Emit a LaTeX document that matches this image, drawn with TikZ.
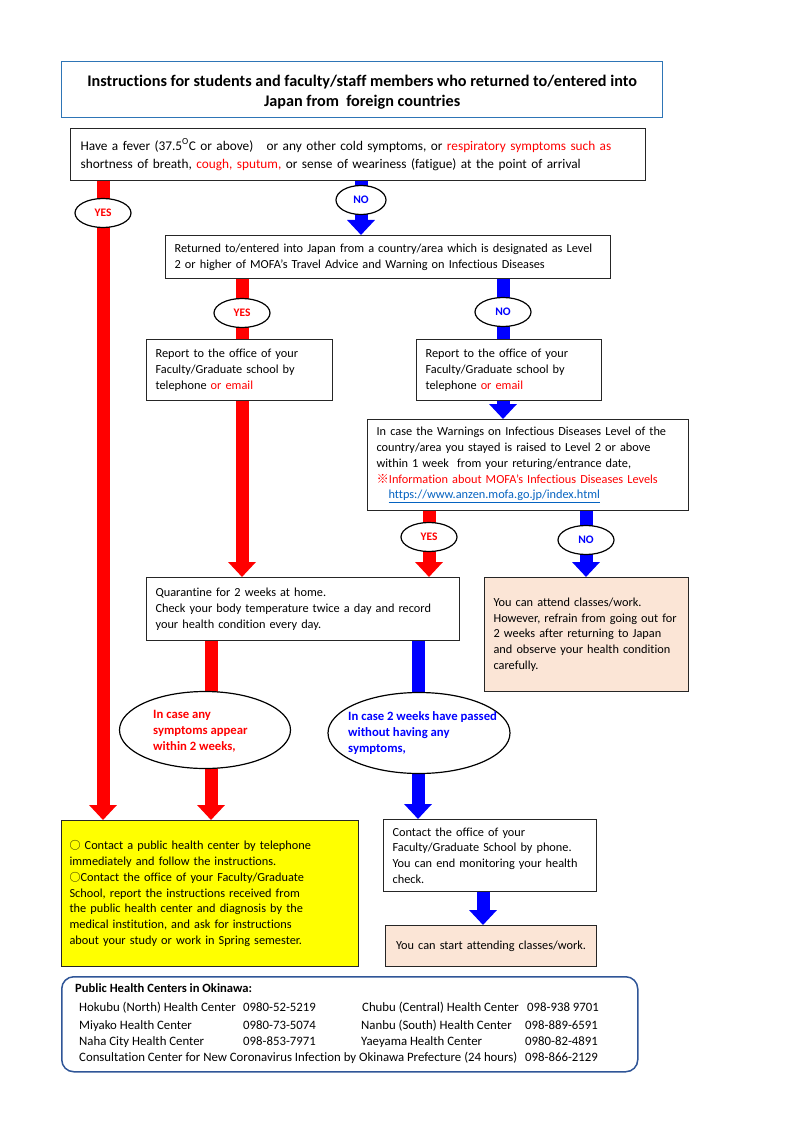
\documentclass[tikz,border=0pt]{standalone}
\usepackage{fontspec}
\setmainfont[Ligatures=NoCommon]{Carlito}
\newfontfamily\cjk{Noto Sans CJK JP}
\usetikzlibrary{shapes.geometric,arrows.meta,backgrounds}
\definecolor{tblue}{RGB}{46,117,182}
\definecolor{pblue}{RGB}{47,85,151}
\definecolor{peach}{RGB}{251,229,214}
\definecolor{lnk}{RGB}{5,99,193}
\definecolor{myred}{RGB}{255,0,0}
\definecolor{myblue}{RGB}{0,0,255}
\definecolor{yel}{RGB}{255,255,0}
\begin{document}
\begin{tikzpicture}[x=1pt,y=-1pt,
  box/.style={draw=black!85, line width=1.2pt, fill=white, inner xsep=9pt, inner ysep=0pt,
    align=left, anchor=north west, font=\fontsize{12.3}{16}\selectfont},
  yn/.style={ellipse, draw=black, line width=1.2pt, fill=white, inner sep=0pt,
    minimum width=56pt, minimum height=29pt, font=\bfseries\fontsize{11.5}{13}\selectfont},
  bigell/.style={ellipse, draw=black, line width=1.2pt, fill=white, inner sep=0pt},
  elltext/.style={align=left, anchor=west, inner sep=0pt, font=\bfseries\fontsize{12.7}{15.8}\selectfont},
  rarr/.style={draw=myred, line width=13pt, -{Triangle[width=27pt,length=15pt]}},
  barr/.style={draw=myblue, line width=13pt, -{Triangle[width=27pt,length=15pt]}},
  rline/.style={draw=myred, line width=13pt},
  bline/.style={draw=myblue, line width=13pt},
  ptext/.style={anchor=base west, inner sep=0pt, font=\fontsize{12.8}{14}\selectfont}
]
\useasboundingbox (0,0) rectangle (800,1131);

% title
\node[draw=tblue, line width=1.3pt, minimum width=601pt, minimum height=56pt, anchor=north west,
  inner sep=0pt] (title) at (61,61) {};
\node[align=center, inner sep=0pt, font=\bfseries\fontsize{16.2}{20}\selectfont] (titletext)
  at ([yshift=-2.5pt]title.center)
  {Instructions for students and faculty/staff members who returned to/entered into\\Japan from\ \ foreign countries};

% box 1
\node[box, text width=555pt, minimum height=52pt, inner xsep=10pt, font=\fontsize{13.3}{18}\selectfont] (b1) at (70,128)
  {Have a fever (37.5\textsuperscript{O}C or above)\ \ \ or any other cold symptoms, or \textcolor{myred}{respiratory symptoms such as}\\
   shortness of breath, \textcolor{myred}{cough, sputum,} or sense of weariness (fatigue) at the point of arrival};

\node[yn, text=myred] (y1) at (103,213) {YES};
\node[yn, text=myblue, minimum width=50pt] (n1) at (361,200) {NO};

% box 2
\node[box, text width=427pt, minimum height=43pt] (b2) at (165,235)
  {Returned to/entered into Japan from a country/area which is designated as Level\\
   2 or higher of MOFA's Travel Advice and Warning on Infectious Diseases};

\node[yn, text=myred] (y2) at (242,313) {YES};
\node[yn, text=myblue] (n2) at (503,312) {NO};

% box 3, 4
\node[box, text width=168pt, minimum height=61pt] (b3) at (146,339)
  {Report to the office of your\\Faculty/Graduate school by\\telephone \textcolor{myred}{or email}};
\node[box, text width=167pt, minimum height=61pt] (b4) at (416,339)
  {Report to the office of your\\Faculty/Graduate school by\\telephone \textcolor{myred}{or email}};

% box 5
\node[box, text width=303pt, minimum height=91pt, font=\fontsize{12.3}{15.8}\selectfont] (b5) at (367,419)
  {In case the Warnings on Infectious Diseases Level of the\\
   country/area you stayed is raised to Level 2 or above\\
   within 1 week\ \ from your returing/entrance date,\\
   \textcolor{myred}{{\cjk ※}Information about MOFA's Infectious Diseases Levels}\\
   \hspace*{12pt}\textcolor{lnk}{\underline{https://www.anzen.mofa.go.jp/index.html}}};

\node[yn, text=myred] (y3) at (429,537) {YES};
\node[yn, text=myblue] (n3) at (586,540) {NO};

% box 6
\node[box, fill=peach, text width=186pt, minimum height=114pt, font=\fontsize{12.3}{15.6}\selectfont] (b6) at (484,577)
  {You can attend classes/work.\\However, refrain from going out for\\2 weeks after returning to Japan\\and observe your health condition\\carefully.};

% box 7
\node[box, text width=295pt, minimum height=63pt] (b7) at (146,577)
  {Quarantine for 2 weeks at home.\\Check your body temperature twice a day and record\\your health condition every day.};

% ellipses
\node[bigell, minimum width=171pt, minimum height=77pt] (e1) at (205,730) {};
\node[elltext, text=myred] (e1t) at (153,731) {In case any\\symptoms appear\\within 2 weeks,};
\node[bigell, minimum width=182pt, minimum height=81pt] (e2) at (419,733) {};
\node[elltext, text=myblue] (e2t) at (348,733) {In case 2 weeks have passed\\without having any\\symptoms,};

% box 8 yellow
\node[box, fill=yel, text width=281pt, minimum height=146pt, inner xsep=8pt, font=\fontsize{12.3}{15.8}\selectfont] (b8) at (61,820)
  {{\cjk\fontsize{11}{13}\selectfont ○} Contact a public health center by telephone\\
   immediately and follow the instructions.\\
   {\cjk\fontsize{11}{13}\selectfont ○}Contact the office of your Faculty/Graduate\\
   School, report the instructions received from\\
   the public health center and diagnosis by the\\
   medical institution, and ask for instructions\\
   about your study or work in Spring semester.};

% box 9
\node[box, text width=195pt, minimum height=72pt, font=\fontsize{12.3}{15.8}\selectfont] (b9) at (383,819)
  {Contact the office of your\\Faculty/Graduate School by phone.\\You can end monitoring your health\\check.};

% box 10
\node[box, fill=peach, text width=193pt, minimum height=41pt, align=center] (b10) at (385,925)
  {You can start attending classes/work.};

% bottom panel
\node[draw=pblue, line width=1.5pt, rounded corners=12pt, minimum width=576pt, minimum height=95pt,
  anchor=north west, inner sep=0pt] (pan) at (61,976) {};
\node[ptext, font=\bfseries\fontsize{12.6}{14}\selectfont] (ph) at (75,992) {Public Health Centers in Okinawa:};
\node[ptext] (r1a) at (79,1011) {Hokubu (North) Health Center};
\node[ptext] (r1b) at (243,1011) {0980-52-5219};
\node[ptext] (r1c) at (362,1011) {Chubu (Central) Health Center};
\node[ptext] (r1d) at (527,1011) {098-938 9701};
\node[ptext] (r2a) at (79,1029) {Miyako Health Center};
\node[ptext] (r2b) at (243,1029) {0980-73-5074};
\node[ptext] (r2c) at (361,1029) {Nanbu (South) Health Center};
\node[ptext] (r2d) at (525,1029) {098-889-6591};
\node[ptext] (r3a) at (79,1045) {Naha City Health Center};
\node[ptext] (r3b) at (243,1045) {098-853-7971};
\node[ptext] (r3c) at (361,1045) {Yaeyama Health Center};
\node[ptext] (r3d) at (525,1045) {0980-82-4891};
\node[ptext] (r4a) at (79,1061) {Consultation Center for New Coronavirus Infection by Okinawa Prefecture (24 hours)};
\node[ptext] (r4d) at (525,1061) {098-866-2129};

% column coordinates
\coordinate (cA) at (103,0);
\coordinate (cB) at (361,0);
\coordinate (cC) at (242,0);
\coordinate (cD) at (503,0);
\coordinate (cE) at (429,0);
\coordinate (cF) at (586,0);
\coordinate (cG) at (211,0);
\coordinate (cH) at (418,0);
\coordinate (cI) at (483,0);

\begin{scope}[on background layer]
\draw[rarr] (b1.south -| cA) -- (b8.north -| cA);
\draw[barr] (b1.south -| cB) -- (b2.north -| cB);
\draw[rline] (b2.south -| cC) -- (b3.north -| cC);
\draw[bline] (b2.south -| cD) -- (b4.north -| cD);
\draw[rarr] (b3.south -| cC) -- (b7.north -| cC);
\draw[barr] (b4.south -| cD) -- (b5.north -| cD);
\draw[rarr] (b5.south -| cE) -- (b7.north -| cE);
\draw[barr] (b5.south -| cF) -- (b6.north -| cF);
\draw[rarr] (b7.south -| cG) -- (b8.north -| cG);
\draw[barr] (b7.south -| cH) -- (b9.north -| cH);
\draw[barr] (b9.south -| cI) -- (b10.north -| cI);
\end{scope}
\end{tikzpicture}
\end{document}
